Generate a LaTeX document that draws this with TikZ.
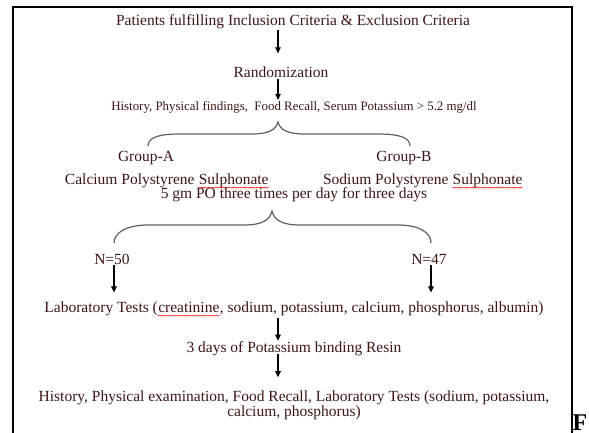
\documentclass[tikz,border=0pt]{standalone}
\usepackage{fontspec}
\setmainfont{Liberation Serif}
\usetikzlibrary{arrows.meta,decorations.pathmorphing}
\definecolor{inkred}{RGB}{62,22,22}
\definecolor{bracegray}{RGB}{95,95,95}
\newcommand\spellwave[1]{\tikz[baseline=(sw.base)]{\node[inner sep=0pt,text=inkred] (sw) {#1};
  \draw[red, line width=0.45pt, decorate, decoration={snake, amplitude=0.55pt, segment length=2.4pt}]
    ([yshift=-3.2pt]sw.base west) -- ([yshift=-3.2pt]sw.base east);}}
\tikzset{
  txt/.style={inner sep=1pt, text=inkred, font=\fontsize{15.5}{13.5}\selectfont},
  smalltxt/.style={inner sep=1pt, text=inkred, font=\fontsize{12.9}{14}\selectfont},
  arr/.style={line width=1.1pt, -{Triangle[length=6pt,width=5.5pt]}},
  brace/.style={line width=1.2pt, draw=bracegray}
}

\begin{document}
\begin{tikzpicture}[x=1pt,y=-1pt]
\useasboundingbox (0,0) rectangle (589,432);
\clip (0,0) rectangle (589,432);
\draw[line width=1.2pt] (13,440) -- (13,7) -- (572,7) -- (572,440);
\coordinate (spine) at (278,0);
\node[txt] (incl) at (293,22) {Patients fulfilling Inclusion Criteria \& Exclusion Criteria};
\node[txt] (rand) at (281,72) {Randomization};
\node[smalltxt] (hist) at (294,107) {History, Physical findings,\ \ Food Recall, Serum Potassium > 5.2 mg/dl};
\node[txt] (grpa) at (146,158) {Group-A};
\node[txt] (grpb) at (404,158) {Group-B};
\node[txt] (casps) at (167,181) {Calcium Polystyrene \spellwave{Sulphonate}};
\node[txt] (naps) at (423,181) {Sodium Polystyrene \spellwave{Sulphonate}};
\node[txt] (dose) at (294,195) {5 gm PO three times per day for three days};
\node[txt] (n50) at (112,259) {N=50};
\node[txt] (n47) at (429,259) {N=47};
\node[txt] (lab) at (294,309) {Laboratory Tests (\spellwave{creatinine}, sodium, potassium, calcium, phosphorus, albumin)};
\node[txt] (resin) at (294,349) {3 days of Potassium binding Resin};
\node[txt, align=center] (final) at (294,405) {History, Physical examination, Food Recall, Laboratory Tests (sodium, potassium,\\ calcium, phosphorus)};
\node[inner sep=0pt, anchor=north west, font=\fontsize{24}{24}\selectfont\bfseries] (fig) at (572.5,415) {F};
% arrows
\draw[arr, shorten >=12pt] (incl.south -| spine) -- (rand.north -| spine);
\draw[arr] (rand.south -| spine) -- (hist.north -| spine);
\draw[arr, shorten >=8pt] ([xshift=2pt]n50.south) -- ([xshift=2pt]n50.south |- lab.north);
\draw[arr, shorten >=8pt] ([xshift=2pt]n47.south) -- ([xshift=2pt]n47.south |- lab.north);
\draw[arr] (lab.south -| spine) -- (resin.north -| spine);
\draw[arr, shorten <=-3pt, shorten >=12pt] (resin.south -| spine) -- (final.north -| spine);
% braces
\draw[brace] (148,146) .. controls (148,137) and (160,134) .. (180,134) -- (252,134)
  .. controls (268,134) and (276,130) .. (278,122) .. controls (280,130) and (288,134) .. (304,134)
  -- (378,134) .. controls (398,134) and (410,137) .. (410,146);
\draw[brace] (114,243) .. controls (114,233) and (126,225) .. (148,225) -- (244,225)
  .. controls (262,225) and (270,220) .. (272,211) .. controls (274,220) and (282,225) .. (300,225)
  -- (398,225) .. controls (420,225) and (431,233) .. (431,243);
\end{tikzpicture}
\end{document}
